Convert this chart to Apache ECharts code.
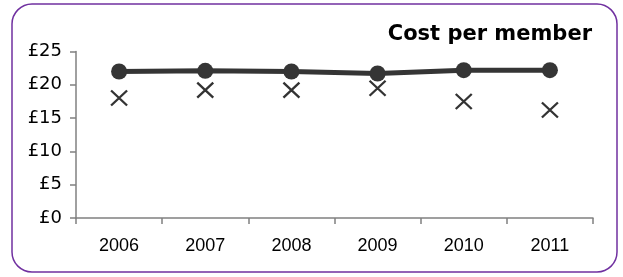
<!DOCTYPE html>
<html>
<head>
<meta charset="utf-8">
<script src="https://cdn.jsdelivr.net/npm/echarts@6/dist/echarts.min.js"></script>
<style>
html,body{margin:0;padding:0;background:#fff;}
#c{width:623px;height:277px;}
</style>
</head>
<body>
<div id="c"></div>
<script>
var categories = ['2006', '2007', '2008', '2009', '2010', '2011'];
var costPerMember = [22.0, 22.1, 22.0, 21.7, 22.2, 22.2];
var comparison = [18.0, 19.2, 19.2, 19.5, 17.5, 16.2];
var titleText = 'Cost per member';

var chart = echarts.init(document.getElementById('c'), null, {renderer: 'canvas'});
chart.setOption({
  animation: false,
  backgroundColor: '#ffffff',
  graphic: [{
    type: 'rect',
    shape: {x: 12, y: 4, width: 605, height: 268, r: 20},
    style: {fill: 'none', stroke: '#7030a0', lineWidth: 1.5},
    silent: true
  }],
  title: {
    text: titleText,
    right: 26,
    top: 19,
    textStyle: {fontFamily: 'DejaVu Sans', fontWeight: 'bold', fontSize: 21, color: '#000'}
  },
  grid: {left: 76, right: 30, top: 51.5, bottom: 59, containLabel: false},
  xAxis: {
    type: 'category',
    data: categories,
    boundaryGap: true,
    axisLine: {lineStyle: {color: '#808080', width: 1.5}},
    axisTick: {show: true, length: 6, alignWithLabel: false, lineStyle: {color: '#808080', width: 1.5}},
    axisLabel: {fontFamily: 'Liberation Sans', fontSize: 18, color: '#000', margin: 19}
  },
  yAxis: {
    type: 'value',
    min: 0, max: 25, interval: 5,
    axisLine: {show: true, lineStyle: {color: '#808080', width: 1.5}},
    axisTick: {show: true, length: 6, lineStyle: {color: '#808080', width: 1.5}},
    splitLine: {show: false},
    axisLabel: {fontFamily: 'DejaVu Sans', fontSize: 18, color: '#000', margin: 14, formatter: '£{value}'}
  },
  series: [{
    type: 'line',
    data: costPerMember,
    symbol: 'circle',
    symbolSize: 16,
    lineStyle: {color: '#353535', width: 5},
    itemStyle: {color: '#353535'},
    z: 3
  }, {
    type: 'scatter',
    data: comparison,
    symbol: 'path://M0,0L10,10M10,0L0,10',
    symbolSize: [16, 15],
    itemStyle: {color: 'rgba(0,0,0,0)', borderColor: '#000', borderWidth: 2.2},
    z: 2
  }]
});
</script>
</body>
</html>
